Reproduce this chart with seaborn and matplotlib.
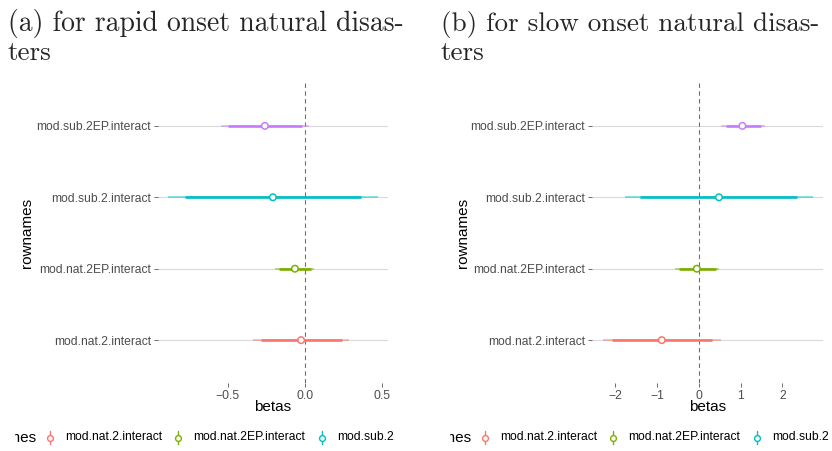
import numpy as np
import pandas as pd
import matplotlib
matplotlib.use("Agg")
import matplotlib.pyplot as plt
import seaborn as sns

# model rows (bottom to top) and ggplot default hue colours
rownames = ["mod.nat.2.interact", "mod.nat.2EP.interact",
            "mod.sub.2.interact", "mod.sub.2EP.interact"]
palette = ["#F8766D", "#7CAE00", "#00BFC4", "#C77CFF"]

# (a) rapid onset: point estimate, inner and outer intervals
rapid_beta = [-0.026, -0.066, -0.208, -0.26]
rapid_lo_in = [-0.286, -0.17, -0.773, -0.50]
rapid_hi_in = [0.24, 0.039, 0.36, -0.02]
rapid_lo_out = [-0.338, -0.194, -0.883, -0.545]
rapid_hi_out = [0.286, 0.06, 0.468, 0.026]
rapid_ticks = [-0.5, 0.0, 0.5]

# (b) slow onset
slow_beta = [-0.89, -0.05, 0.48, 1.04]
slow_lo_in = [-2.08, -0.48, -1.40, 0.645]
slow_hi_in = [0.31, 0.40, 2.36, 1.48]
slow_lo_out = [-2.31, -0.57, -1.77, 0.53]
slow_hi_out = [0.54, 0.48, 2.72, 1.58]
slow_ticks = [-2, -1, 0, 1, 2]

titles = [("(a) for rapid onset natural disas-", "ters"),
          ("(b) for slow onset natural disas-", "ters")]

sns.set_theme(style="white")
plt.rcParams['font.family'] = ['Liberation Sans', 'DejaVu Sans']

W, H = 832, 451
fig = plt.figure(figsize=(W / 100, H / 100), dpi=100)


def px(x0, y0, x1, y1):
    # pixel box -> figure fraction rect
    return [x0 / W, 1 - y1 / H, (x1 - x0) / W, (y1 - y0) / H]


def panel(rect, beta, lo_in, hi_in, lo_out, hi_out, ticks, ylab_x):
    ax = fig.add_axes(rect)
    df = pd.DataFrame({"rownames": rownames, "betas": beta,
                       "lo_in": lo_in, "hi_in": hi_in,
                       "lo_out": lo_out, "hi_out": hi_out})
    df["pos"] = np.arange(len(df))
    for i, r in df.iterrows():
        ax.axhline(r.pos, color="#DADADA", lw=0.8, zorder=0)
    ax.axvline(0, color="#707070", lw=0.8, ls=(0, (4, 3)), zorder=1)
    for i, r in df.iterrows():
        ax.hlines(r.pos, r.lo_out, r.hi_out, color=palette[i], lw=1.3, alpha=0.5, zorder=2)
        ax.hlines(r.pos, r.lo_in, r.hi_in, color=palette[i], lw=1.9, zorder=3)
    sns.scatterplot(data=df, x="betas", y="pos", hue="rownames", palette=palette,
                    facecolor="white", s=22, linewidth=1.1, legend=False, ax=ax, zorder=4)
    # edge colours follow hue
    ax.collections[-1].set_edgecolor(palette)
    ax.collections[-1].set_facecolor("white")
    lo, hi = min(lo_out), max(hi_out)
    pad = 0.05 * (hi - lo)
    ax.set_xlim(lo - pad, hi + pad)
    ax.set_ylim(-0.6, len(df) - 0.4)
    ax.set_xticks(ticks)
    ax.set_yticks(df.pos)
    ax.set_yticklabels(rownames)
    for s in ax.spines.values():
        s.set_visible(False)
    ax.tick_params(axis="both", length=3, width=0.6, color="#555555",
                   labelcolor="#4D4D4D", labelsize=8.7, pad=2, bottom=True, left=True)
    ax.set_xlabel("betas", fontsize=11, color="black")
    ax.set_ylabel("rownames", fontsize=11, color="black")
    ax.xaxis.set_label_coords(0.5, -0.058)
    ax.yaxis.set_label_coords(ylab_x, 0.5)
    ax.grid(False)
    return ax


def legend_strip(x0, x1, off):
    lax = fig.add_axes(px(x0, 425, x1, 450))
    lax.set_xlim(x0, x1)
    lax.set_ylim(0, 1)
    lax.axis("off")
    lax.text(36 + off, 0.5, "rownames", ha="right", va="center", fontsize=11,
             color="black", clip_on=True)
    xs = [50, 178, 322, 488]
    for i, name in enumerate(rownames):
        x = xs[i] + off
        lax.plot([x, x], [0.25, 0.75], color=palette[i], lw=1.0, clip_on=True)
        lax.plot([x], [0.5], marker="o", ms=4.2, mfc="white", mec=palette[i], mew=1.0,
                 clip_on=True)
        lax.text(x + 15.5, 0.5, name, ha="left", va="center", fontsize=8.7,
                 color="black", clip_on=True)


panel(px(158, 83, 388, 383), rapid_beta, rapid_lo_in, rapid_hi_in,
      rapid_lo_out, rapid_hi_out, rapid_ticks, -0.54)
panel(px(592, 83, 823, 383), slow_beta, slow_lo_in, slow_hi_in,
      slow_lo_out, slow_hi_out, slow_ticks, -0.53)

legend_strip(15, 395, 0)
legend_strip(450, 829, 435)

for (l1, l2), x, fs in zip(titles, [8, 441], [19.9, 19.5]):
    fig.text(x / W, 1 - 31 / H, l1, family="cmr10", fontsize=fs, va="baseline")
    fig.text(x / W, 1 - 60 / H, l2, family="cmr10", fontsize=19.5, va="baseline")

fig.savefig("out.png", dpi=100)
